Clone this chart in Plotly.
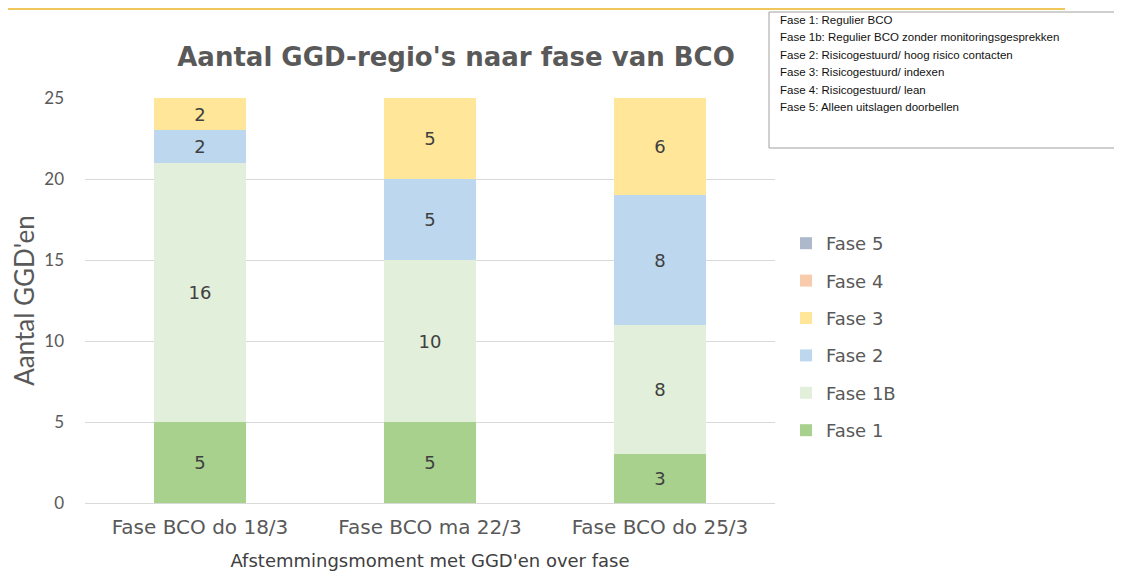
import plotly.graph_objects as go

categories = ["Fase BCO do 18/3", "Fase BCO ma 22/3", "Fase BCO do 25/3"]
series_names = ["Fase 1", "Fase 1B", "Fase 2", "Fase 3", "Fase 4", "Fase 5"]
fase1 = [5, 5, 3]
fase1b = [16, 10, 8]
fase2 = [2, 5, 8]
fase3 = [2, 5, 6]
fase4 = [0, 0, 0]
fase5 = [0, 0, 0]
series_values = [fase1, fase1b, fase2, fase3, fase4, fase5]
colors = ["#a9d18e", "#e2efda", "#bdd7ee", "#ffe699", "#f8cbad", "#adb9ca"]
y_ticks = [0, 5, 10, 15, 20, 25]
note_lines = [
    "Fase 1: Regulier BCO",
    "Fase 1b: Regulier BCO zonder monitoringsgesprekken",
    "Fase 2: Risicogestuurd/ hoog risico contacten",
    "Fase 3: Risicogestuurd/ indexen",
    "Fase 4: Risicogestuurd/ lean",
    "Fase 5: Alleen uitslagen doorbellen",
]

fig = go.Figure()
n = len(series_names)
for i, (name, vals, col) in enumerate(zip(series_names, series_values, colors)):
    fig.add_trace(go.Bar(
        x=categories, y=vals, name=name, marker_color=col,
        marker_line_width=0, width=0.404,
        text=[str(v) if v else "" for v in vals],
        textposition="inside", insidetextanchor="middle",
        textfont=dict(family="DejaVu Sans", size=18, color="#404040"),
        legendgroup=name, legendrank=n - i,
    ))

# page body has an 8px margin; work in screen pixels and convert
OFF = 8
W, H = 1114, 567
L, R, T, B = 77, 347, 90, 72
pw, ph = W - L - R, H - T - B

def px_x(p):
    return (p - OFF - L) / pw

def px_y(p):
    return (H - B - (p - OFF)) / ph

fig.update_layout(
    width=W, height=H, barmode="stack",
    margin=dict(l=L, r=R, t=T, b=B, autoexpand=False),
    paper_bgcolor="white", plot_bgcolor="white",
    title=dict(text="<b>Aantal GGD-regio's naar fase van BCO</b>",
               x=px_x(456), xref="paper", xanchor="center",
               y=1 - (57 - OFF) / H, yanchor="middle",
               font=dict(family="DejaVu Sans", size=26, color="#595959")),
    showlegend=True,
    legend=dict(x=px_x(786), y=px_y(225), xanchor="left", yanchor="top",
                traceorder="grouped", tracegroupgap=11,
                font=dict(family="DejaVu Sans", size=18, color="#595959"),
                bgcolor="rgba(0,0,0,0)"),
    uniformtext=dict(mode="show", minsize=10),
)
fig.update_xaxes(showgrid=False, showline=False, ticks="", automargin=False,
                 tickfont=dict(family="DejaVu Sans", size=20, color="#595959"),
                 ticklabelstandoff=10,
                 title=dict(text="Afstemmingsmoment met GGD'en over fase",
                            font=dict(family="DejaVu Sans", size=18, color="#404040"),
                            standoff=16))
fig.update_yaxes(range=[0, 25], tickvals=y_ticks, showgrid=True, automargin=False,
                 gridcolor="#d9d9d9", gridwidth=1, zeroline=True,
                 zerolinecolor="#d9d9d9", zerolinewidth=1, showline=False,
                 ticks="", ticklabelstandoff=20,
                 tickfont=dict(family="Lato", size=17, color="#595959"),
                 title=dict(text="Aantal GGD'en",
                            font=dict(family="Lato", size=26, color="#595959"),
                            standoff=4))

# top decorative line
fig.add_shape(type="line", xref="paper", yref="paper",
              x0=px_x(0), x1=px_x(1065), y0=px_y(9), y1=px_y(9),
              line=dict(color="#f0c85a", width=2))
# note box
fig.add_shape(type="rect", xref="paper", yref="paper",
              x0=px_x(769), x1=px_x(1160), y0=px_y(148), y1=px_y(12),
              line=dict(color="#a0a0a0", width=1), fillcolor="white", layer="above")
for i, line in enumerate(note_lines):
    fig.add_annotation(text=line, xref="paper", yref="paper",
                       x=px_x(778), y=px_y(20 + 17.4 * i),
                       xanchor="left", yanchor="middle", showarrow=False,
                       font=dict(family="Liberation Sans", size=11.5, color="#111111"))

fig.write_html("out.html")
